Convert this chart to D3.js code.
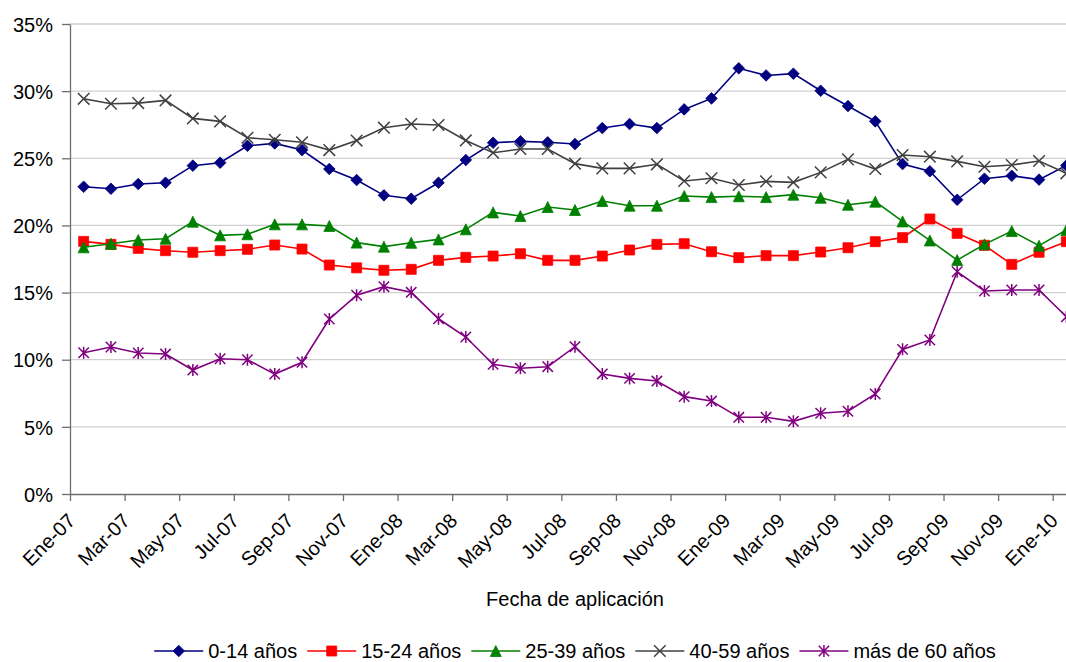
<!DOCTYPE html>
<html>
<head>
<meta charset="utf-8">
<script src="https://cdn.jsdelivr.net/npm/d3@7"></script>
<style>
  html, body { margin: 0; padding: 0; background: #fff; }
  svg { display: block; font-family: "Liberation Sans", Arial, sans-serif; }
</style>
</head>
<body>
<svg id="chart" width="1066" height="662"></svg>
<script>
// Monthly categories, Ene-07 .. Ene-10
const monthNames = ["Ene","Feb","Mar","Abr","May","Jun","Jul","Ago","Sep","Oct","Nov","Dic"];
const months = [];
for (let yr = 7; yr <= 10; yr++) {
  for (let m = 0; m < 12; m++) {
    if (yr === 10 && m > 0) break;
    months.push(monthNames[m] + "-" + String(yr).padStart(2, "0"));
  }
}

// Share of each age group (%)
const age0_14 = [22.88, 22.73, 23.08, 23.18, 24.45, 24.67, 25.93, 26.11, 25.61, 24.20, 23.38, 22.24, 21.99, 23.18, 24.87, 26.16, 26.26, 26.19, 26.06, 27.25, 27.55, 27.25, 28.64, 29.46, 31.70, 31.17, 31.30, 30.03, 28.89, 27.75, 24.57, 24.03, 21.91, 23.48, 23.70, 23.41, 24.47];
const age15_24 = [18.81, 18.59, 18.29, 18.12, 18.00, 18.12, 18.22, 18.54, 18.24, 17.05, 16.84, 16.66, 16.73, 17.40, 17.62, 17.72, 17.89, 17.40, 17.40, 17.72, 18.17, 18.59, 18.64, 18.04, 17.60, 17.75, 17.75, 18.02, 18.34, 18.79, 19.09, 20.48, 19.41, 18.52, 17.10, 18.00, 18.79];
const age25_39 = [18.37, 18.64, 18.91, 19.01, 20.28, 19.26, 19.34, 20.08, 20.08, 19.96, 18.72, 18.42, 18.71, 18.96, 19.71, 20.97, 20.70, 21.37, 21.15, 21.82, 21.47, 21.47, 22.19, 22.11, 22.17, 22.11, 22.29, 22.06, 21.54, 21.77, 20.30, 18.88, 17.42, 18.59, 19.58, 18.49, 19.66];
const age40_59 = [29.43, 29.06, 29.11, 29.31, 27.97, 27.75, 26.53, 26.38, 26.19, 25.61, 26.32, 27.28, 27.55, 27.48, 26.33, 25.41, 25.69, 25.69, 24.60, 24.25, 24.25, 24.55, 23.31, 23.51, 23.01, 23.28, 23.21, 23.95, 24.92, 24.20, 25.24, 25.12, 24.77, 24.37, 24.50, 24.80, 23.88];
const age60plus = [10.52, 10.95, 10.50, 10.42, 9.23, 10.07, 10.00, 8.93, 9.81, 13.03, 14.80, 15.44, 15.02, 13.05, 11.69, 9.66, 9.36, 9.48, 10.97, 8.94, 8.61, 8.41, 7.25, 6.92, 5.71, 5.71, 5.41, 6.01, 6.16, 7.45, 10.77, 11.47, 16.55, 15.12, 15.19, 15.19, 13.20];

const seriesNames = ["0-14 años", "15-24 años", "25-39 años", "40-59 años", "más de 60 años"];
const yTicks = [0, 5, 10, 15, 20, 25, 30, 35];
const xTitle = "Fecha de aplicación";

const series = [
  { name: seriesNames[0], values: age0_14,  color: "#000080", marker: "diamond" },
  { name: seriesNames[1], values: age15_24, color: "#ff0000", marker: "square" },
  { name: seriesNames[2], values: age25_39, color: "#008000", marker: "triangle" },
  { name: seriesNames[3], values: age40_59, color: "#404040", marker: "x" },
  { name: seriesNames[4], values: age60plus, color: "#800080", marker: "star" }
];

const svg = d3.select("#chart");
const plot = { left: 70, right: 1080, top: 24, bottom: 494 };

// Month boundaries on a linear scale; each month is one unit wide
const xb = d3.scaleLinear().domain([0, months.length]).range([plot.left, plot.right]);
const xc = i => xb(i + 0.5);
const y = d3.scaleLinear().domain([0, 35]).range([plot.bottom, plot.top]);

// Horizontal gridlines
svg.append("g")
  .selectAll("line")
  .data(yTicks.filter(d => d > 0))
  .join("line")
  .attr("x1", plot.left).attr("x2", plot.right)
  .attr("y1", d => y(d)).attr("y2", d => y(d))
  .attr("stroke", "#cfcfcf").attr("stroke-width", 1.3);

// Y axis
const yAxis = svg.append("g")
  .attr("transform", `translate(${plot.left},0)`)
  .call(d3.axisLeft(y).tickValues(yTicks).tickFormat(d => d + "%").tickSize(8).tickSizeOuter(0));
yAxis.select(".domain").attr("stroke", "#6e6e6e").attr("stroke-width", 1.3);
yAxis.selectAll(".tick line").attr("stroke", "#6e6e6e").attr("stroke-width", 1.3);
yAxis.selectAll(".tick text")
  .attr("x", -17).attr("dy", "0.36em")
  .attr("font-size", 20).attr("fill", "#000")
  .attr("font-family", "Liberation Sans, Arial, sans-serif");

// X axis: ticks every two months on month boundaries
const tickIdx = d3.range(0, months.length, 2);
const xAxis = svg.append("g")
  .attr("transform", `translate(0,${plot.bottom})`)
  .call(d3.axisBottom(xb).tickValues(tickIdx).tickFormat(i => months[i]).tickSize(7).tickSizeOuter(0));
xAxis.select(".domain").attr("stroke", "#6e6e6e").attr("stroke-width", 1.3);
xAxis.selectAll(".tick line").attr("stroke", "#6e6e6e").attr("stroke-width", 1.3);
xAxis.selectAll(".tick text")
  .attr("font-size", 20).attr("fill", "#000")
  .attr("font-family", "Liberation Sans, Arial, sans-serif")
  .attr("text-anchor", "end")
  .attr("y", 0).attr("dy", 0)
  .attr("transform", "translate(6,28) rotate(-45)");

// Axis title
svg.append("text")
  .attr("x", (plot.left + plot.right) / 2)
  .attr("y", 606)
  .attr("text-anchor", "middle")
  .attr("font-size", 20)
  .text(xTitle);

// Marker shapes
function markerPath(type) {
  switch (type) {
    case "diamond": { const r = 5.8; return `M0,${-r}L${r},0L0,${r}L${-r},0Z`; }
    case "square":  { const r = 5;   return `M${-r},${-r}H${r}V${r}H${-r}Z`; }
    case "triangle":{ const w = 5.5, h = 5.5; return `M0,${-h}L${w},${h}L${-w},${h}Z`; }
    case "x":       { const r = 5.8; return `M${-r},${-r}L${r},${r}M${r},${-r}L${-r},${r}`; }
    case "star":    { const r = 5.2; return `M${-r},${-r}L${r},${r}M${r},${-r}L${-r},${r}M0,${-r - 0.8}V${r + 0.8}`; }
  }
}
function styleMarker(sel, s) {
  if (s.marker === "x" || s.marker === "star") {
    sel.attr("fill", "none").attr("stroke", s.color).attr("stroke-width", 1.5);
  } else {
    sel.attr("fill", s.color).attr("stroke", s.color).attr("stroke-width", 0.8);
  }
}

const line = d3.line().x((d, i) => xc(i)).y(d => y(d));

series.forEach(s => {
  const g = svg.append("g");
  g.append("path")
    .datum(s.values)
    .attr("d", line)
    .attr("fill", "none")
    .attr("stroke", s.color)
    .attr("stroke-width", 1.6);
  g.selectAll("path.mk")
    .data(s.values)
    .join("path")
    .attr("class", "mk")
    .attr("transform", (d, i) => `translate(${xc(i)},${y(d)})`)
    .attr("d", markerPath(s.marker))
    .call(styleMarker, s);
});

// Legend, centered under the plot
const legend = svg.append("g");
const lineLen = 49, textGap = 5, itemGap = 10, legY = 651;
let cursor = 0;
series.forEach(s => {
  const it = legend.append("g");
  it.append("line").attr("x1", 0).attr("x2", lineLen).attr("y1", 0).attr("y2", 0)
    .attr("stroke", s.color).attr("stroke-width", 1.6);
  it.append("path").attr("transform", `translate(${lineLen / 2},0)`)
    .attr("d", markerPath(s.marker)).call(styleMarker, s);
  const t = it.append("text").attr("x", lineLen + textGap).attr("y", 6.5)
    .attr("font-size", 20).text(s.name);
  const w = lineLen + textGap + t.node().getComputedTextLength();
  it.attr("transform", `translate(${cursor},${legY})`);
  cursor += w + itemGap;
});
const totalW = cursor - itemGap;
legend.attr("transform", `translate(${(plot.left + plot.right) / 2 - totalW / 2},0)`);
</script>
</body>
</html>
